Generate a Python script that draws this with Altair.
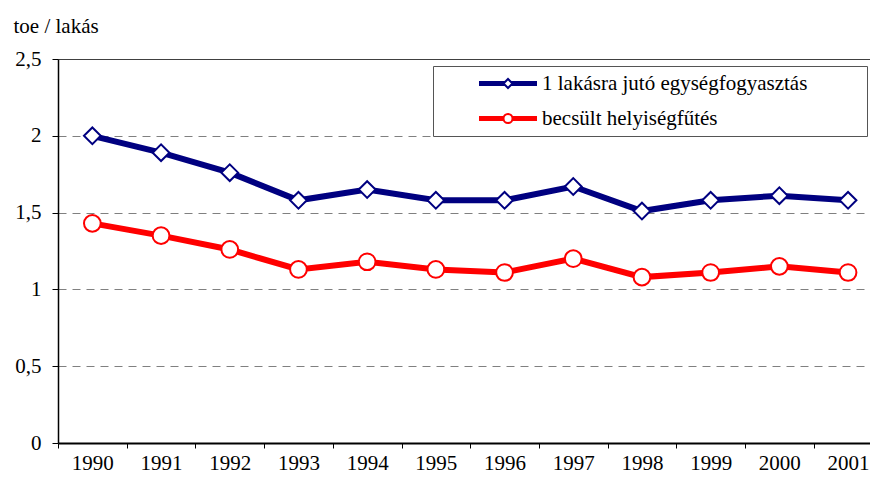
import altair as alt
import pandas as pd

# ---- data ----
years = [1990, 1991, 1992, 1993, 1994, 1995, 1996, 1997, 1998, 1999, 2000, 2001]
series_names = ["1 lakásra jutó egységfogyasztás", "becsült helyiségfűtés"]
per_dwelling = [2.00, 1.89, 1.76, 1.58, 1.65, 1.58, 1.58, 1.67, 1.51, 1.58, 1.61, 1.58]
space_heating = [1.43, 1.35, 1.26, 1.13, 1.18, 1.13, 1.11, 1.20, 1.08, 1.11, 1.15, 1.11]
y_ticks = [0, 0.5, 1, 1.5, 2, 2.5]
series_colors = ["#000080", "#FF0000"]
series_shapes = ["diamond", "circle"]
y_title = "toe / lakás"

rows = []
for name, vals in zip(series_names, [per_dwelling, space_heating]):
    for yr, v in zip(years, vals):
        rows.append({"ev": yr, "ertek": v, "sorozat": name, "sorozat_p": name})
df = pd.DataFrame(rows)

FONT = "Liberation Serif"
FS = 21
W = 812
H = 384
PX_PER_YEAR = 68.7
half_band = PX_PER_YEAR / 2
x_max = 1989.5 + W / PX_PER_YEAR
# trailing non-breaking spaces widen the legend frame; the zero-width char keeps them from being trimmed
PAD_TAIL = "\u00a0" * 10 + "\u200b"

xscale = alt.Scale(domain=[1989.5, x_max], nice=False, zero=False)
yscale = alt.Scale(domain=[0, 2.5], nice=False, zero=True)

x_axis = alt.Axis(
    values=years, tickOffset=-half_band, labelOffset=half_band, format="d",
    title=None, grid=False, domainColor="black", domainWidth=2,
    tickColor="black", tickSize=5, tickWidth=1, labelPadding=4,
    labelFont=FONT, labelFontSize=FS, labelColor="black",
    labelFlush=False, labelOverlap=False,
)
y_axis = alt.Axis(
    values=y_ticks, title=y_title, titleAngle=0, titleAlign="left",
    titleBaseline="alphabetic", titleX=-45, titleY=-27,
    titleFont=FONT, titleFontSize=FS, titleFontWeight="normal", titleColor="black",
    labelExpr="replace(format(datum.value, '~g'), '.', ',')",
    labelFont=FONT, labelFontSize=FS, labelColor="black", labelPadding=11,
    labelFlush=False, labelOverlap=False,
    tickSize=6, tickColor="black", tickWidth=1,
    domainColor="black", domainWidth=1.5,
    grid=True, gridWidth=1,
    gridColor={"condition": {"test": "datum.value >= 2.5", "value": "black"}, "value": "#808080"},
    gridDash={"condition": {"test": "datum.value >= 2.5", "value": [1, 0]}, "value": [8, 6]},
    gridOpacity={"condition": {"test": "datum.value == 0", "value": 0}, "value": 1},
)

common_legend = dict(
    title=None, orient="none", legendX=375, legendY=7, padding=7,
    symbolOffset=57.5, labelOffset=23.5, labelFont=FONT, labelFontSize=FS,
    labelLimit=700, labelExpr=f"datum.label + '{PAD_TAIL}'", rowPadding=13,
)
line_legend = alt.Legend(
    symbolType="M-5.8,0H5.8", symbolSize=100, symbolStrokeWidth=5,
    labelOpacity=0, fillColor="white", strokeColor="#555555",
    **common_legend,
)
pt_legend = alt.Legend(
    symbolSize=81, symbolStrokeWidth=2, symbolFillColor="white",
    labelColor="black", **common_legend,
)

line = alt.Chart(df).mark_line(strokeWidth=6).encode(
    x=alt.X("ev:Q", scale=xscale, axis=x_axis),
    y=alt.Y("ertek:Q", scale=yscale, axis=y_axis),
    color=alt.Color("sorozat:N", scale=alt.Scale(range=series_colors), legend=line_legend),
)

points = alt.Chart(df).mark_point(filled=False, fill="white", opacity=1, strokeWidth=2, size=280).encode(
    x=alt.X("ev:Q", scale=xscale, axis=x_axis),
    y=alt.Y("ertek:Q", scale=yscale, axis=y_axis),
    stroke=alt.Stroke("sorozat_p:N", scale=alt.Scale(range=series_colors), legend=pt_legend),
    shape=alt.Shape("sorozat_p:N", scale=alt.Scale(range=series_shapes), legend=pt_legend),
)

chart = alt.layer(line, points).properties(
    width=W, height=H,
    padding={"left": 50, "top": 51, "right": 0, "bottom": 31},
    autosize=alt.AutoSizeParams(type="none"),
    background="white",
).configure_view(stroke=None)

chart.save("out.html", embed_options={"renderer": "svg", "actions": False})
